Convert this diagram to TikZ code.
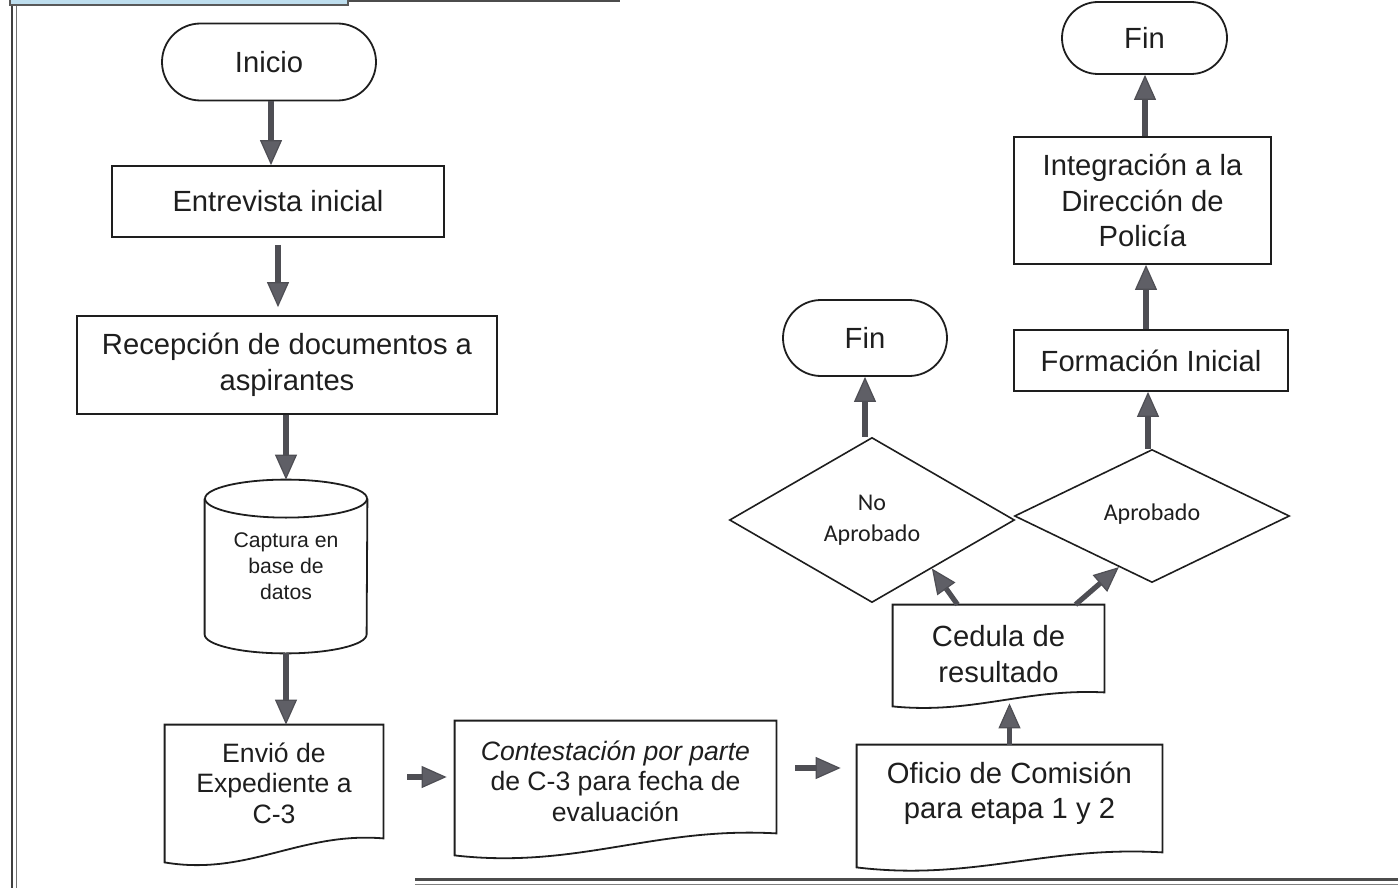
\documentclass[tikz,border=0pt]{standalone}
\usepackage{fontspec}
\setmainfont{Liberation Sans}
\newfontfamily\calfont{Carlito}
\usetikzlibrary{arrows.meta,shapes.misc,shapes.geometric,calc}
\definecolor{arrgray}{RGB}{78,78,84}
\definecolor{headgray}{RGB}{95,95,102}
\definecolor{tabblue}{RGB}{190,222,238}
\definecolor{inkc}{RGB}{30,30,30}
\tikzset{
  base/.style={align=center, text=inkc, inner sep=0pt, font=\fontsize{14.6}{17.75}\selectfont},
  procbox/.style={base, draw=inkc, line width=0.9pt, rectangle},
  term/.style={base, draw=inkc, line width=0.9pt, rounded rectangle},
  docbox/.style={base, rectangle},
  smalltxt/.style={font=\fontsize{13.3}{15.3}\selectfont},
  cyltxt/.style={base, rectangle, font=\fontsize{10.6}{13}\selectfont},
  decis/.style={draw=inkc, line width=0.8pt, diamond, inner sep=0pt, align=center, text=inkc,
    font=\calfont\fontsize{12}{15.5}\selectfont},
  arr/.style={draw=arrgray, line width=2.6pt,
    -{Triangle[width=11pt,length=12.5pt,line width=0.6pt,fill=headgray]}},
  outline/.style={draw=inkc, line width=0.9pt}
}
% #1 node, #2 left corner below south, #3 right corner above south, #4 wave amplitude
\newcommand\docoutline[4]{%
  \draw[outline] ($(#1.south west)+(0,#2)$) -- (#1.north west) -- (#1.north east)
    -- ($(#1.south east)+(0,{-(#3)})$)
    .. controls ($(#1.south west)!0.62!(#1.south east)+(0,{-(#3)-0.5*(#4)})$)
    and ($(#1.south west)!0.38!(#1.south east)+(0,{(#2)+(#4)})$)
    .. ($(#1.south west)+(0,#2)$) -- cycle;}
\begin{document}
\begin{tikzpicture}[x=0.5pt,y=-0.5pt]
\useasboundingbox (0,0) rectangle (1398,888);
% frame
\draw[line width=1.2pt, black!75] (12,0) -- (12,888);
\draw[line width=0.7pt, black!55] (16.5,0) -- (16.5,888);
\draw[line width=1.2pt, black!70] (415,879.5) -- (1398,879.5);
\draw[line width=0.7pt, black!50] (415,884.5) -- (1398,884.5);
\draw[line width=0.8pt, black!70] (348,1) -- (620,1);
\draw[draw=black!65, line width=0.6pt, fill=tabblue] (10,-2) rectangle (348,5);

% nodes
\node[term, minimum width=107pt, minimum height=38.5pt] (ini) at (269,62) {Inicio};
\node[procbox, minimum width=166pt, minimum height=35.5pt] (ent) at (278,201.5) {Entrevista inicial};
\node[procbox, minimum width=210pt, minimum height=49pt] (rec) at (287,365) {Recepción de documentos a\\aspirantes};
\node[cyltxt, minimum width=81pt, minimum height=86.5pt] (cyl) at (286,566.5) {Captura en\\base de\\datos};
\node[docbox, smalltxt, minimum width=109pt, minimum height=58pt] (env) at (274,783) {Envió de\\Expediente a\\C-3};
\node[docbox, smalltxt, minimum width=160.5pt, minimum height=60pt] (cont) at (615.5,781) {\textit{Contestación por parte}\\de C-3 para fecha de\\evaluación};
\node[docbox, minimum width=152.5pt, minimum height=48.5pt] (ofi) at (1009.5,793.5) {Oficio de Comisión\\para etapa 1 y 2};
\node[docbox, minimum width=105.5pt, minimum height=49pt] (ced) at (998.5,654) {Cedula de\\resultado};
\node[decis, minimum width=142.5pt, minimum height=82.5pt] (no) at (872,520) {No\\Aprobado};
\node[decis, minimum width=137.5pt, minimum height=66.5pt] (ap) at (1152,516) {\raisebox{3.5pt}{Aprobado}};
\node[term, minimum width=82pt, minimum height=38pt] (fin2) at (865,338) {Fin};
\node[procbox, minimum width=137pt, minimum height=30.5pt] (form) at (1151,360.5) {Formación Inicial};
\node[procbox, minimum width=128.5pt, minimum height=63.5pt] (int) at (1142.5,200.5) {Integración a la\\Dirección de\\Policía};
\node[term, minimum width=82.5pt, minimum height=36pt] (fin) at (1144.5,38) {Fin};

% shapes drawn from node anchors
\draw[outline] ($(cyl.north west)+(0,19)$) -- ($(cyl.south west)+(0,-19)$)
  arc[start angle=180, end angle=360, x radius=40.5pt, y radius=9.5pt]
  -- ($(cyl.north east)+(0,19)$);
\draw[outline] ($(cyl.north)+(0,19)$) ellipse [x radius=40.5pt, y radius=9.5pt];
\docoutline{env}{21}{3}{14}
\docoutline{cont}{14}{8}{14}
\docoutline{ofi}{25}{-10}{14}
\docoutline{ced}{3}{11}{8}

% connectors
\draw[arr] (ini.south -| 271,0) -- (ent.north -| 271,0);
\draw[arr, shorten <=3.5pt, shorten >=4pt] (ent.south) -- (ent.south |- rec.north);
\draw[arr] (rec.south -| cyl.north) -- (cyl.north);
\draw[arr] (cyl.south) -- (cyl.south |- env.north);
\draw[arr, shorten <=12pt, shorten >=4pt] ([yshift=3pt]env.east) -- ([yshift=3pt]env.east -| cont.west);
\draw[arr, shorten <=9.5pt, shorten >=8pt] ([yshift=6.5pt]cont.east) -- ([yshift=6.5pt]cont.east -| ofi.west);
\draw[arr] (ofi.north) -- (ofi.north |- ced.south);
\draw[arr] ([xshift=-20.5pt]ced.north) -- (no.-39);
\draw[arr] ([xshift=38.5pt]ced.north) -- (ap.-123);
\draw[arr] (fin2.south |- no.north) -- (fin2.south);
\draw[arr] (ap.north -| 1148,0) -- (form.south -| 1148,0);
\draw[arr] (form.north -| 1146,0) -- (int.south -| 1146,0);
\draw[arr] (int.north -| 1145,0) -- (fin.south -| 1145,0);
\end{tikzpicture}
\end{document}
